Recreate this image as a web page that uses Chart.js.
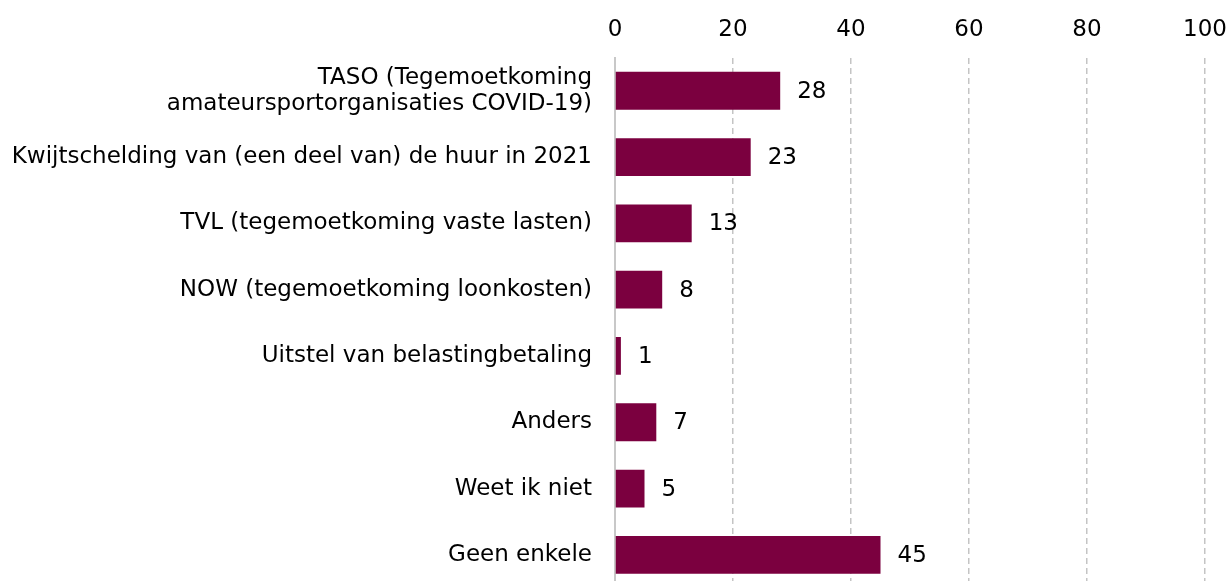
<!DOCTYPE html>
<html>
<head>
<meta charset="utf-8">
<script src="https://cdn.jsdelivr.net/npm/chart.js@4/dist/chart.umd.min.js"></script>
<style>
  html, body { margin: 0; padding: 0; background: #fff; overflow: hidden; }
</style>
</head>
<body>
<canvas id="myChart" width="1231" height="590"></canvas>
<script>
// category labels (first one wraps on two lines)
var categories = [
  ["TASO (Tegemoetkoming", "amateursportorganisaties COVID-19)"],
  "Kwijtschelding van (een deel van) de huur in 2021",
  "TVL (tegemoetkoming vaste lasten)",
  "NOW (tegemoetkoming loonkosten)",
  "Uitstel van belastingbetaling",
  "Anders",
  "Weet ik niet",
  "Geen enkele"
];
var values = [28, 23, 13, 8, 1, 7, 5, 45];
var tickValues = [0, 20, 40, 60, 80, 100];

var barColor = "#7b003f";
var fontFamily = "'DejaVu Sans', sans-serif";
var fontSize = 23;

// draws the number just right of every bar
var valueLabels = {
  id: "valueLabels",
  afterDatasetsDraw: function(chart) {
    var ctx = chart.ctx;
    var meta = chart.getDatasetMeta(0);
    ctx.save();
    ctx.font = fontSize + "px " + fontFamily;
    ctx.fillStyle = "#000";
    ctx.textAlign = "left";
    ctx.textBaseline = "middle";
    meta.data.forEach(function(bar, i) {
      ctx.fillText(values[i], bar.x + 17, bar.y + 1);
    });
    ctx.restore();
  }
};

var ctx = document.getElementById("myChart").getContext("2d");
var chart = new Chart(ctx, {
  type: "bar",
  data: {
    labels: categories,
    datasets: [{
      data: values,
      backgroundColor: barColor,
      borderWidth: 0,
      barPercentage: 0.57,
      categoryPercentage: 1
    }]
  },
  options: {
    indexAxis: "y",
    responsive: false,
    animation: false,
    layout: { padding: { top: 2, right: 26, bottom: 2, left: 0 } },
    plugins: {
      legend: { display: false },
      tooltip: { enabled: false }
    },
    scales: {
      x: {
        position: "top",
        min: 0,
        max: 100,
        afterBuildTicks: function(axis) {
          axis.ticks = tickValues.map(function(v) { return { value: v }; });
        },
        afterFit: function(axis) {
          axis.paddingLeft = 0;
          axis.paddingRight = 0;
        },
        border: { display: false, dash: [6, 4] },
        grid: {
          color: function(c) { return c.index === 0 ? "rgba(0,0,0,0)" : "#c4c4c4"; },
          lineWidth: 1.5,
          drawTicks: false
        },
        ticks: {
          color: "#000",
          font: { family: fontFamily, size: fontSize },
          padding: 14
        }
      },
      y: {
        // labels sit in the middle of each band, no extra room needed above/below
        afterFit: function(axis) {
          axis.paddingTop = 0;
          axis.paddingBottom = 0;
          axis.width = 615;
        },
        border: { display: true, color: "#c8c8c8", width: 2 },
        grid: { display: false },
        ticks: {
          color: "#000",
          font: { family: fontFamily, size: fontSize, lineHeight: 1.13 },
          padding: 15
        }
      }
    }
  },
  plugins: [valueLabels]
});
</script>
</body>
</html>
